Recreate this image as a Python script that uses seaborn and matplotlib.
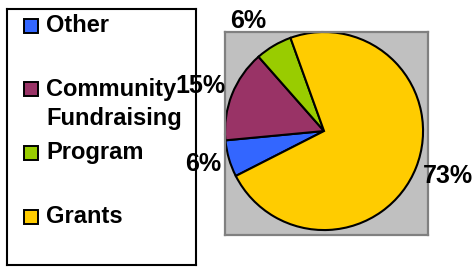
import matplotlib
matplotlib.use("Agg")
import numpy as np
import matplotlib.pyplot as plt
from matplotlib.patches import Rectangle
import seaborn as sns

# ---- data ----
categories = ["Other", "Community\nFundraising", "Program", "Grants"]
shares = [6, 15, 6, 73]
colors = ["#3366FF", "#993366", "#99CC00", "#FFCC00"]

sns.set_style("white")
plt.rcParams["font.family"] = ["Liberation Sans", "DejaVu Sans"]
plt.rcParams["font.weight"] = "bold"

W, H = 477, 267
fig = plt.figure(figsize=(W / 100, H / 100), dpi=100)
fig.patch.set_facecolor("white")

# ---- legend box (drawn first, underneath) ----
lx0, lx1, ly0, ly1 = 7, 196, 9, 265
lax = fig.add_axes([lx0 / W, 1 - ly1 / H, (lx1 - lx0) / W, (ly1 - ly0) / H])
lax.set_zorder(0)
lax.set_xlim(lx0, lx1)
lax.set_ylim(ly1, ly0)
lax.set_xticks([])
lax.set_yticks([])
lax.set_facecolor("white")
for s in lax.spines.values():
    s.set_visible(True)
    s.set_edgecolor("black")
    s.set_linewidth(1.5)

slot0, pitch = 25.5, 63.7
for i, (lab, col) in enumerate(zip(categories, colors)):
    yc = slot0 + pitch * i
    lax.add_patch(Rectangle((24.5, yc - 7), 14, 14, facecolor=col,
                            edgecolor="black", linewidth=1.4))
    for j, line in enumerate(lab.split("\n")):
        lax.text(46, yc + 29 * j, line, fontsize=17, fontweight="bold",
                 va="center", ha="left", color="black", clip_on=False)

# ---- pie plot area (gray square) ----
bx0, bx1, by0, by1 = 225, 428, 32, 235
ax = fig.add_axes([bx0 / W, 1 - by1 / H, (bx1 - bx0) / W, (by1 - by0) / H])
ax.set_zorder(2)
wedges, texts, autotexts = ax.pie(
    shares, colors=colors, startangle=207, counterclock=False,
    autopct=lambda p: f"{p:.0f}%", pctdistance=1.32,
    wedgeprops=dict(edgecolor="black", linewidth=1.5),
    textprops=dict(fontsize=18, fontweight="bold", color="black"),
    radius=1.0,
)
# label placement (distance in radii, angular nudge in degrees)
label_dist = [1.27, 1.33, 1.35, 1.33]
label_dang = [-0.9, 1.6, 4.0, 1.6]
for w, t, d, da in zip(wedges, autotexts, label_dist, label_dang):
    a = np.deg2rad((w.theta1 + w.theta2) / 2 + da)
    t.set_position((d * np.cos(a), d * np.sin(a)))
    t.set_clip_on(False)
ax.set_frame_on(True)
ax.patch.set_visible(True)
ax.set_facecolor("#C0C0C0")
ax.set_xlim(-1.0, 1.05)
ax.set_ylim(-1.05, 1.0)
ax.set_aspect("auto")
ax.set_xticks([])
ax.set_yticks([])
for s in ax.spines.values():
    s.set_visible(True)
    s.set_edgecolor("#808080")
    s.set_linewidth(1.6)

fig.savefig("out.png", dpi=100)
